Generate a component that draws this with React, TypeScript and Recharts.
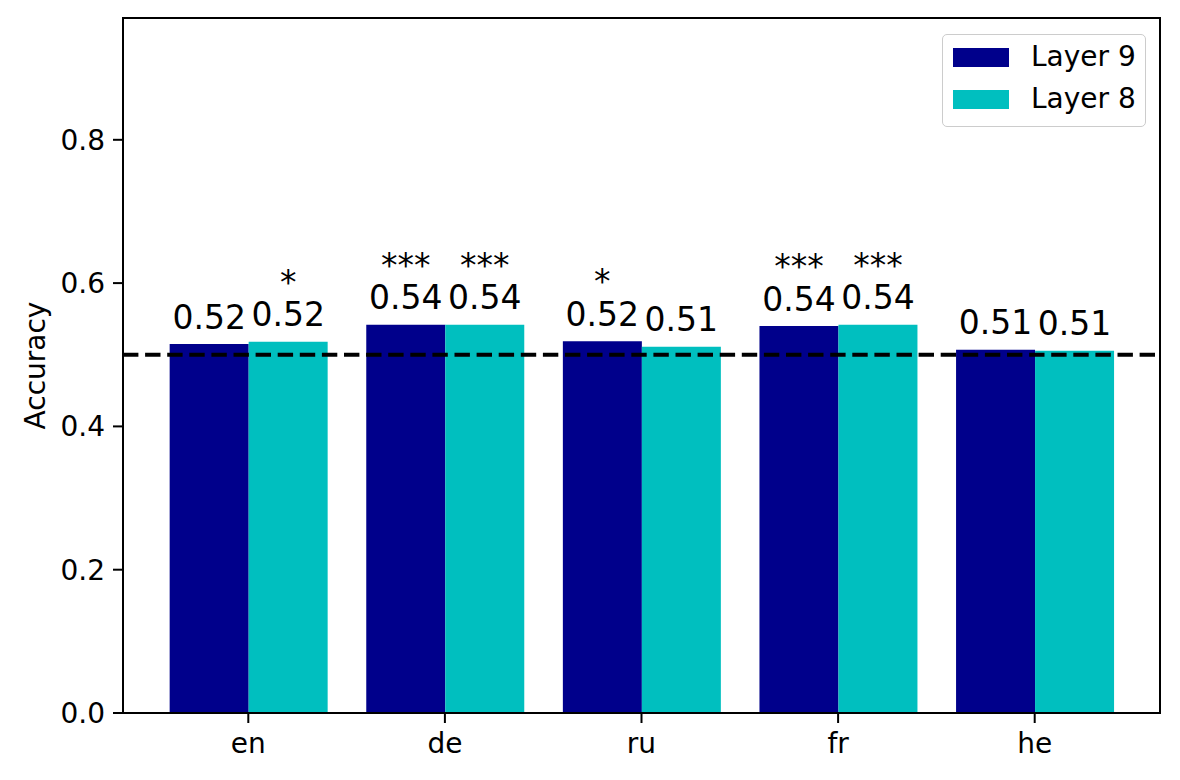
import React from 'react';
import { BarChart, Bar, XAxis, YAxis, ReferenceLine, ReferenceArea, LabelList } from 'recharts';

const categories = ['en', 'de', 'ru', 'fr', 'he'];
const layer9 = [0.515, 0.542, 0.519, 0.540, 0.507];
const layer8 = [0.518, 0.542, 0.511, 0.542, 0.5055];
const sig9 = ['', '***', '*', '***', ''];
const sig8 = ['*', '***', '', '***', ''];
const yTicks = [0, 0.2, 0.4, 0.6, 0.8];
const yMax = 0.97;
const chance = 0.5;
const seriesNames = ['Layer 9', 'Layer 8'];
const seriesColors = ['#00008B', '#00BFBF'];

const data = categories.map((c, i) => ({
  cat: c,
  l9: layer9[i],
  l8: layer8[i],
  s9: sig9[i],
  s8: sig8[i],
}));

const FONT = 'DejaVu Sans';
const PAD = 27;

const ValueLabel = (props: any) => {
  const { x, y, width, value } = props;
  const cx = Number(x) + Number(width) / 2;
  return (
    <text x={cx} y={Number(y) - 15.5} textAnchor="middle" fontSize={33} fontFamily={FONT} fill="#000">
      {Number(value).toFixed(2)}
    </text>
  );
};

const StarLabel = (props: any) => {
  const { x, y, width, value } = props;
  if (!value) return null;
  const cx = Number(x) + Number(width) / 2;
  return (
    <text x={cx} y={Number(y) - 48} textAnchor="middle" fontSize={33} fontFamily={FONT} fill="#000">
      {value}
    </text>
  );
};

const FrameShape = (props: any) => {
  const x = Number(props.x) - PAD;
  const w = Number(props.width) + 2 * PAD;
  return (
    <rect x={x} y={Number(props.y)} width={w} height={Number(props.height)} fill="none" stroke="#000" strokeWidth={2} />
  );
};

const YLabel = (props: any) => {
  const vb = props.viewBox || {};
  const cy = Number(vb.y) + Number(vb.height) / 2;
  const lx = 45;
  return (
    <text
      x={lx}
      y={cy}
      textAnchor="middle"
      fontSize={28}
      fontFamily={FONT}
      fill="#000"
      transform={`rotate(-90, ${lx}, ${cy})`}
    >
      Accuracy
    </text>
  );
};

export default function App() {
  return (
    <div style={{ position: 'absolute', left: 0, top: 0, width: 1180, height: 780, background: '#fff', fontFamily: FONT }}>
      <BarChart
        width={1180}
        height={780}
        data={data}
        margin={{ top: 18, right: 20, bottom: 0, left: 0 }}
        barCategoryGap="10%"
        barGap={0}
      >
        <XAxis
          dataKey="cat"
          height={67}
          padding={{ left: PAD, right: PAD }}
          tickSize={10}
          tickMargin={10}
          axisLine={{ stroke: '#000', strokeWidth: 2 }}
          tickLine={{ stroke: '#000', strokeWidth: 2 }}
          tick={{ fontSize: 28, fill: '#000', fontFamily: FONT }}
        />
        <YAxis
          width={123}
          domain={[0, yMax]}
          ticks={yTicks}
          type="number"
          allowDataOverflow
          tickFormatter={(v: number) => v.toFixed(1)}
          tickSize={10}
          tickMargin={8}
          axisLine={{ stroke: '#000', strokeWidth: 2 }}
          tickLine={{ stroke: '#000', strokeWidth: 2 }}
          tick={{ fontSize: 28, fill: '#000', fontFamily: FONT }}
          label={<YLabel />}
        />
        <Bar dataKey="l9" name={seriesNames[0]} fill={seriesColors[0]} isAnimationActive={false}>
          <LabelList dataKey="l9" content={<ValueLabel />} />
          <LabelList dataKey="s9" content={<StarLabel />} />
        </Bar>
        <Bar dataKey="l8" name={seriesNames[1]} fill={seriesColors[1]} isAnimationActive={false}>
          <LabelList dataKey="l8" content={<ValueLabel />} />
          <LabelList dataKey="s8" content={<StarLabel />} />
        </Bar>
        <ReferenceLine y={chance} stroke="#000" strokeWidth={4} strokeDasharray="15.4 6.7" />
        <ReferenceArea y1={0} y2={yMax} ifOverflow="visible" shape={<FrameShape />} />
      </BarChart>
      <div
        style={{
          position: 'absolute',
          left: 942,
          top: 34,
          width: 204,
          height: 93,
          boxSizing: 'border-box',
          border: '1.5px solid #cccccc',
          borderRadius: 5,
          background: 'rgba(255,255,255,0.8)',
        }}
      >
        {seriesNames.map((n, i) => (
          <div key={n}>
            <div
              style={{
                position: 'absolute',
                left: 10,
                top: 13 + i * 42,
                width: 56,
                height: 19,
                background: seriesColors[i],
              }}
            />
            <div
              style={{
                position: 'absolute',
                left: 88,
                top: 22 + i * 42 - 17,
                height: 34,
                lineHeight: '34px',
                fontSize: 28,
                color: '#000',
                fontFamily: FONT,
                whiteSpace: 'nowrap',
              }}
            >
              {n}
            </div>
          </div>
        ))}
      </div>
    </div>
  );
}
